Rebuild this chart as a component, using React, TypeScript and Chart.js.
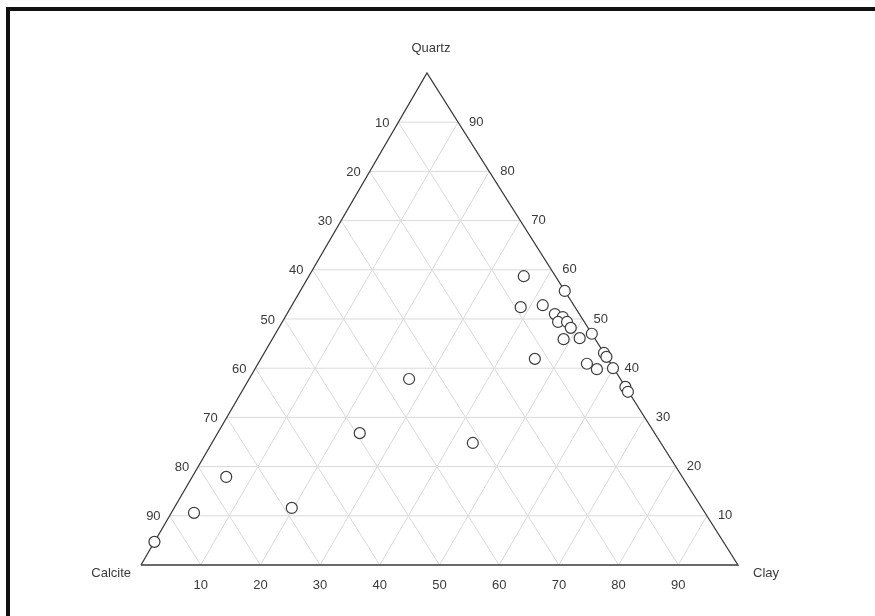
import React, { useEffect, useRef } from "react";
import { Chart, registerables } from "chart.js";

Chart.register(...registerables);

// Axis tick values (percent)
const TICKS = [10, 20, 30, 40, 50, 60, 70, 80, 90];
const VERTEX_TOP = "Quartz";
const VERTEX_LEFT = "Calcite";
const VERTEX_RIGHT = "Clay";

// Sample compositions (percent)
const QUARTZ = [58.7, 55.7, 52.4, 52.8, 51.0, 50.4, 49.4, 49.4, 48.2, 45.9, 46.1, 47.0, 41.9, 43.1, 42.3, 40.9, 39.8, 40.0, 36.2, 35.2, 37.8, 26.8, 24.8, 17.9, 10.6, 11.6, 4.7];
const CLAY = [36.0, 44.3, 38.5, 42.0, 44.9, 46.5, 46.2, 47.7, 48.9, 48.8, 51.4, 53.0, 45.9, 56.9, 57.7, 55.1, 57.3, 59.9, 63.8, 64.7, 26.8, 23.8, 43.7, 5.7, 3.8, 19.7, 0.0];
const CALCITE = [5.3, 0.0, 9.1, 5.2, 4.1, 3.1, 4.4, 2.9, 2.9, 5.3, 2.5, 0.0, 12.2, 0.0, 0.0, 4.0, 2.9, 0.1, 0.0, 0.1, 35.4, 49.4, 31.5, 76.4, 85.6, 68.7, 95.3];

// ternary -> cartesian (slight skew matches the reference apex offset)
const SKEW = 0.479;
function toXY(q: number, cl: number, ca: number) {
  const s = q + cl + ca;
  const qq = (q / s) * 100;
  const cc = (cl / s) * 100;
  return { x: cc + SKEW * qq, y: qq };
}

export default function App() {
  const ref = useRef<HTMLCanvasElement | null>(null);
  useEffect(() => {
    if (!ref.current) return;
    const gridColor = "#dadada";
    const datasets: any[] = [];
    // grid lines
    TICKS.forEach((t) => {
      datasets.push({ data: [toXY(t, 0, 100 - t), toXY(t, 100 - t, 0)] });
      datasets.push({ data: [toXY(100 - t, t, 0), toXY(0, t, 100 - t)] });
      datasets.push({ data: [toXY(100 - t, 0, t), toXY(0, 100 - t, t)] });
    });
    datasets.forEach((d) => {
      Object.assign(d, {
        showLine: true,
        borderColor: gridColor,
        borderWidth: 1,
        pointRadius: 0,
        order: 3,
        fill: false,
      });
    });
    datasets.push({
      data: [toXY(0, 0, 100), toXY(0, 100, 0), toXY(100, 0, 0), toXY(0, 0, 100)],
      showLine: true,
      borderColor: "#3a3a3a",
      borderWidth: 1.3,
      pointRadius: 0,
      order: 2,
      fill: false,
    });
    datasets.push({
      data: QUARTZ.map((q, i) => toXY(q, CLAY[i], CALCITE[i])),
      showLine: false,
      pointRadius: 5.5,
      pointBackgroundColor: "#ffffff",
      pointBorderColor: "#3c3c3c",
      pointBorderWidth: 1.2,
      order: 0,
    });

    const labelPlugin = {
      id: "ternaryLabels",
      afterDraw(chart: any) {
        const ctx = chart.ctx;
        const xs = chart.scales.x;
        const ys = chart.scales.y;
        const px = (p: { x: number; y: number }) => ({ x: xs.getPixelForValue(p.x), y: ys.getPixelForValue(p.y) });
        ctx.save();
        ctx.fillStyle = "#3a3a3a";
        ctx.font = "13px 'Liberation Sans', Arial, sans-serif";
        ctx.textBaseline = "middle";
        TICKS.forEach((t) => {
          const b = px(toXY(0, t, 100 - t));
          ctx.textAlign = "center";
          ctx.fillText(String(t), b.x, b.y + 20);
          const l = px(toXY(100 - t, 0, t));
          ctx.textAlign = "right";
          ctx.fillText(String(t), l.x - 9, l.y + 1);
          const r = px(toXY(t, 100 - t, 0));
          ctx.textAlign = "left";
          ctx.fillText(String(t), r.x + 11, r.y);
        });
        const top = px(toXY(100, 0, 0));
        const left = px(toXY(0, 0, 100));
        const right = px(toXY(0, 100, 0));
        ctx.textAlign = "center";
        ctx.fillText(VERTEX_TOP, top.x + 4, top.y - 25);
        ctx.textAlign = "right";
        ctx.fillText(VERTEX_LEFT, left.x - 10, left.y + 8);
        ctx.textAlign = "left";
        ctx.fillText(VERTEX_RIGHT, right.x + 15, right.y + 8);
        ctx.restore();
      },
    };

    const chart = new Chart(ref.current, {
      type: "scatter",
      data: { datasets },
      options: {
        animation: false,
        responsive: true,
        maintainAspectRatio: false,
        layout: { padding: 0, autoPadding: false },
        plugins: { legend: { display: false }, tooltip: { enabled: false } },
        scales: {
          x: { type: "linear", display: false, min: -23.62, max: 122.95 },
          y: { type: "linear", display: false, min: -10.37, max: 114.84 },
        },
      },
      plugins: [labelPlugin],
    });
    return () => chart.destroy();
  }, []);

  return (
    <div style={{ position: "fixed", left: 0, top: 0, width: 875, height: 616, background: "#ffffff" }}>
      <div style={{ position: "absolute", left: 0, top: 0, width: 875, height: 616 }}>
        <canvas ref={ref} />
      </div>
      <div
        style={{
          position: "absolute",
          left: 6,
          top: 7,
          width: 869,
          height: 609,
          borderTop: "4px solid #111",
          borderLeft: "4px solid #111",
          boxSizing: "border-box",
          pointerEvents: "none",
        }}
      />
    </div>
  );
}
